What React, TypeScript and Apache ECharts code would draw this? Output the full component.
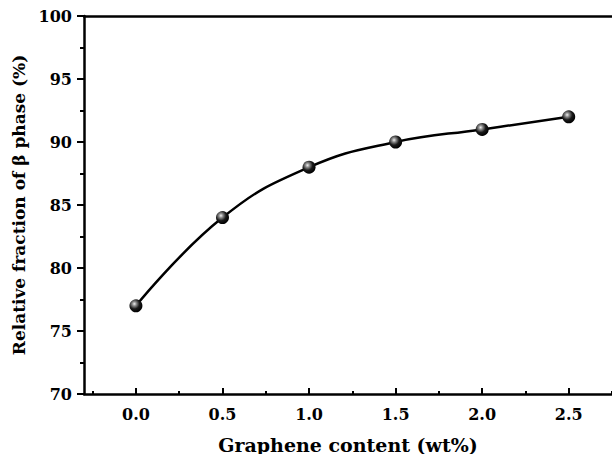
import React, { useEffect, useRef } from "react";
import * as echarts from "echarts";

const xValues = [0, 0.5, 1.0, 1.5, 2.0, 2.5];
const yValues = [77, 84, 88, 90, 91, 92];
const xMajorTicks = [0, 0.5, 1.0, 1.5, 2.0, 2.5];
const xMinorTicks = [-0.25, 0.25, 0.75, 1.25, 1.75, 2.25, 2.75];
const xTitle = "Graphene content (wt%)";
const yTitle = "Relative fraction of β phase (%)";

const FONT = "DejaVu Serif";

export default function App() {
  const ref = useRef<HTMLDivElement>(null);
  useEffect(() => {
    if (!ref.current) return;
    const chart = echarts.init(ref.current, undefined, { renderer: "svg" });
    const xMin = -0.3;
    const xMax = 2.75;
    const baseX = {
      type: "value" as const,
      min: xMin,
      max: xMax,
      splitLine: { show: false },
    };
    chart.setOption({
      animation: false,
      backgroundColor: "#ffffff",
      grid: {
        left: 84,
        top: 16,
        width: 528,
        height: 378,
        containLabel: false,
        outerBoundsMode: "none",
      },
      xAxis: [
        {
          ...baseX,
          position: "bottom",
          name: xTitle,
          nameLocation: "middle",
          nameGap: 41,
          nameTextStyle: { fontFamily: FONT, fontWeight: "bold", fontSize: 19, color: "#000" },
          axisLine: { show: true, onZero: false, lineStyle: { color: "#000", width: 2.5 } },
          axisTick: {
            show: true,
            inside: true,
            length: 6,
            customValues: xMajorTicks,
            lineStyle: { color: "#000", width: 2 },
          },
          axisLabel: {
            show: true,
            customValues: xMajorTicks,
            margin: 12,
            fontFamily: FONT,
            fontWeight: "bold",
            fontSize: 16,
            color: "#000",
            formatter: (v: number) => v.toFixed(1),
          },
        },
        {
          ...baseX,
          position: "bottom",
          axisLine: { show: false, onZero: false },
          axisTick: {
            show: true,
            inside: true,
            length: 3,
            customValues: xMinorTicks,
            lineStyle: { color: "#000", width: 2 },
          },
          axisLabel: { show: false },
        },
        {
          ...baseX,
          position: "top",
          axisLine: { show: true, onZero: false, lineStyle: { color: "#000", width: 2.5 } },
          axisTick: { show: false },
          axisLabel: { show: false },
        },
      ],
      yAxis: [
        {
          type: "value",
          min: 70,
          max: 100,
          interval: 5,
          name: yTitle,
          nameLocation: "middle",
          nameGap: 54,
          nameTextStyle: { fontFamily: FONT, fontWeight: "bold", fontSize: 17, color: "#000" },
          splitLine: { show: false },
          axisLine: { show: true, onZero: false, lineStyle: { color: "#000", width: 2.5 } },
          axisTick: { show: true, length: 7, lineStyle: { color: "#000", width: 2 } },
          minorTick: { show: true, splitNumber: 2, length: 4, lineStyle: { color: "#000", width: 2 } },
          axisLabel: {
            margin: 12,
            fontFamily: FONT,
            fontWeight: "bold",
            fontSize: 16,
            color: "#000",
          },
        },
      ],
      series: [
        {
          type: "line",
          xAxisIndex: 0,
          data: xValues.map((x, i) => [x, yValues[i]]),
          smooth: 0.45,
          lineStyle: { color: "#000", width: 2.5 },
          symbol: "circle",
          symbolSize: 13,
          itemStyle: {
            color: new echarts.graphic.RadialGradient(0.38, 0.35, 0.65, [
              { offset: 0, color: "#f0f0f0" },
              { offset: 0.25, color: "#8a8a8a" },
              { offset: 0.6, color: "#1a1a1a" },
              { offset: 1, color: "#000" },
            ]),
            borderWidth: 0,
          },
          z: 5,
        },
      ],
    });
    return () => chart.dispose();
  }, []);
  return (
    <div
      ref={ref}
      style={{ position: "fixed", left: 0, top: 0, width: 612, height: 454, background: "#fff" }}
    />
  );
}
